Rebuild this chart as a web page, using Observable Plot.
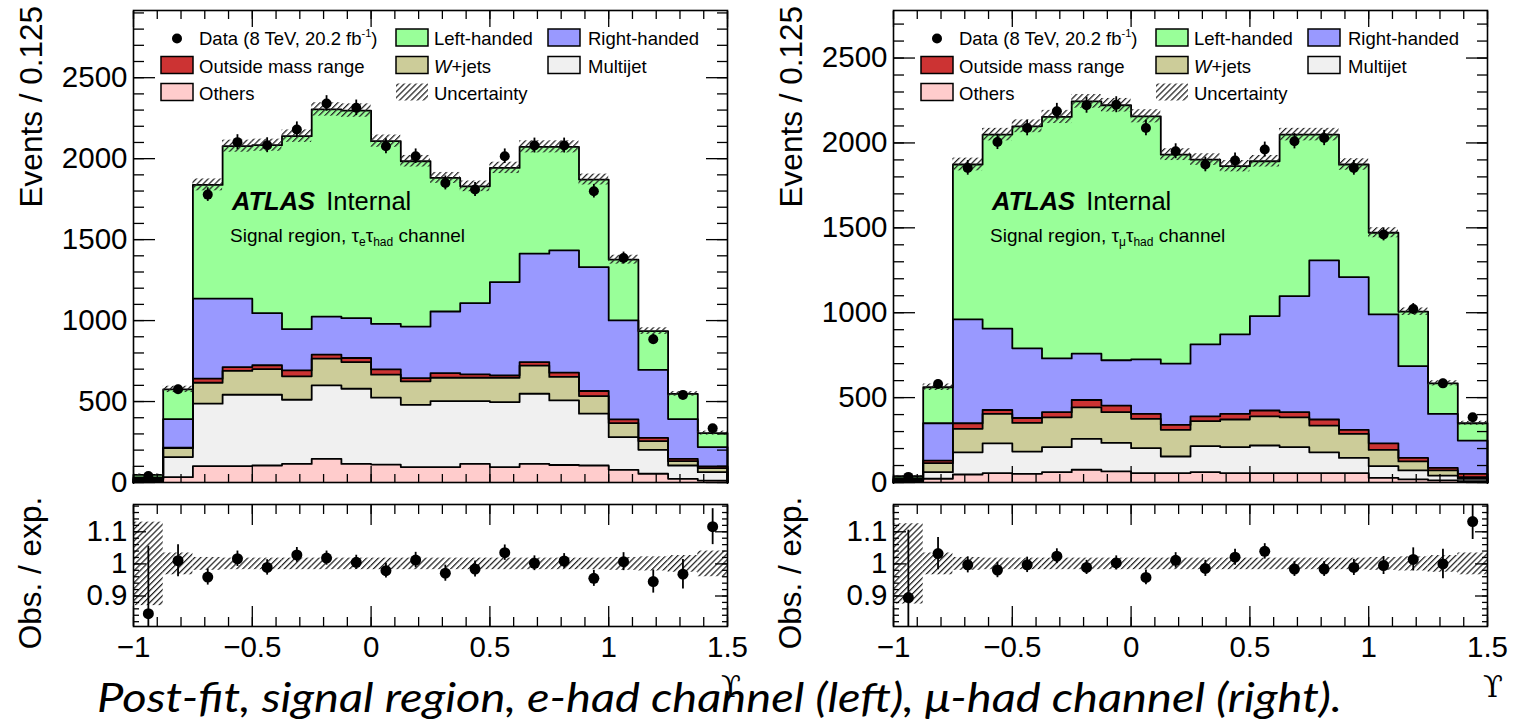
<!DOCTYPE html>
<html><head><meta charset="utf-8">
<script src="https://cdn.jsdelivr.net/npm/d3@7"></script>
<script src="https://cdn.jsdelivr.net/npm/@observablehq/plot@0.6"></script>
<style>
html,body{margin:0;padding:0;background:#fff;}
#root{position:relative;width:1514px;height:726px;overflow:hidden;background:#fff;}
#root svg{position:absolute;}
</style></head><body><div id="root"></div>
<script>
// ---------- data ----------
const binEdges = [-1,-0.875,-0.75,-0.625,-0.5,-0.375,-0.25,-0.125,0,0.125,0.25,0.375,0.5,0.625,0.75,0.875,1,1.125,1.25,1.375,1.5];
const componentNames = ["Others","Multijet","W+jets","Outside mass range","Right-handed","Left-handed"];
const componentColors = ["#ffcccc","#f0f0f0","#cccc99","#cc3333","#9999ff","#99ff99"];

// e-had channel (left)
const ehadOthers   = [5,33,101,101,105,115,146,115,111,95,95,115,95,115,108,105,78,54,23,12];
const ehadMultijet = [10,124,386,441,437,396,454,464,413,385,408,388,402,433,399,320,202,148,82,52];
const ehadWjets    = [5,55,129,147,158,145,165,165,142,145,144,144,150,174,145,109,87,54,27,25];
const ehadOutside  = [2,3,25,24,24,37,25,25,33,20,29,21,15,22,26,31,23,20,14,10];
const ehadRight    = [10,177,494,422,322,254,235,246,281,318,380,440,576,669,756,765,611,419,246,120];
const ehadLeft     = [15,183,703,942,1037,1192,1279,1282,1128,1021,825,721,705,660,639,541,375,240,155,86];
const ehadData     = [40,576,1778,2102,2083,2180,2341,2314,2077,2015,1850,1809,2015,2081,2081,1799,1386,885,541,335];
const ehadDataErr  = [7,24,42,46,46,47,48,48,46,45,43,43,45,46,46,42,37,30,23,18];
const ehadRatio    = [0.845,1.010,0.959,1.016,0.989,1.028,1.018,1.005,0.979,1.012,0.971,0.984,1.035,1.002,1.009,0.955,1.007,0.945,0.968,1.116];
const ehadRatioErr = [0.21,0.05,0.025,0.024,0.024,0.023,0.022,0.022,0.023,0.024,0.025,0.025,0.024,0.023,0.023,0.025,0.028,0.036,0.046,0.056];
const ehadBand     = [0.13,0.034,0.02,0.018,0.018,0.018,0.018,0.018,0.018,0.018,0.018,0.018,0.018,0.018,0.018,0.018,0.02,0.022,0.026,0.04];

// mu-had channel (right)
const muhadOthers   = [4,22,47,55,51,61,75,65,55,55,61,55,55,55,55,55,27,18,12,8];
const muhadMultijet = [8,39,131,176,131,147,182,168,147,98,153,153,163,153,123,90,69,53,29,14];
const muhadWjets    = [4,53,138,173,169,176,186,181,173,157,147,163,172,176,157,141,96,53,30,9];
const muhadOutside  = [2,15,33,23,29,30,43,39,29,29,29,33,34,30,36,24,39,21,15,20];
const muhadRight    = [8,220,612,479,410,317,273,267,321,361,424,469,556,684,937,900,759,540,318,196];
const muhadLeft     = [11,212,912,1143,1308,1422,1486,1502,1432,1231,1088,990,912,951,741,663,481,321,180,102];
const muhadData     = [33,580,1853,2006,2088,2186,2222,2225,2088,1951,1873,1896,1961,2010,2029,1853,1461,1022,584,384];
const muhadDataErr  = [6,24,43,45,46,47,47,47,46,44,43,44,44,45,45,43,38,32,24,20];
const muhadRatio    = [0.895,1.032,0.997,0.981,0.997,1.024,0.989,1.003,0.958,1.011,0.986,1.021,1.039,0.984,0.984,0.989,0.995,1.014,1.0,1.132];
const muhadRatioErr = [0.21,0.05,0.025,0.024,0.024,0.023,0.022,0.022,0.023,0.024,0.025,0.025,0.024,0.023,0.023,0.025,0.028,0.036,0.046,0.056];
const muhadBand     = [0.125,0.034,0.02,0.018,0.018,0.018,0.018,0.018,0.018,0.018,0.018,0.018,0.018,0.018,0.018,0.018,0.02,0.022,0.026,0.034];

// axis ticks
const xMajorTicks = [-1,-0.5,0,0.5,1,1.5];
const xMinorTicks = [-1,-0.9,-0.8,-0.7,-0.6,-0.5,-0.4,-0.3,-0.2,-0.1,0,0.1,0.2,0.3,0.4,0.5,0.6,0.7,0.8,0.9,1,1.1,1.2,1.3,1.4,1.5];
const yMajorTicks = [0,500,1000,1500,2000,2500];
const yMinorTicks = [0,100,200,300,400,500,600,700,800,900,1000,1100,1200,1300,1400,1500,1600,1700,1800,1900,2000,2100,2200,2300,2400,2500,2600,2700,2800,2900];
const rMajorTicks = [0.9,1,1.1];
const rMinorTicks = [0.82,0.84,0.86,0.88,0.9,0.92,0.94,0.96,0.98,1,1.02,1.04,1.06,1.08,1.1,1.12,1.14,1.16,1.18];

// legend
const legendLabels = ["Data","Left-handed","Right-handed","Outside mass range","W+jets","Multijet","Others","Uncertainty"];

// ---------- helpers ----------
const HATCH = "#010203";
const fontFam = "'Liberation Sans', Arial, Helvetica, sans-serif";
const root = document.getElementById("root");
const fmtX = d => d < 0 ? "\u2212" + Math.abs(d) : String(d);

function hatchDef(id) {
  return `<pattern id="${id}" width="4.2" height="4.2" patternUnits="userSpaceOnUse" patternTransform="rotate(45)"><rect x="0" y="0" width="1.25" height="4.2" fill="#222"/></pattern>`;
}
function applyHatch(svg, id) {
  const s = d3.select(svg);
  s.insert("defs", ":first-child").html(hatchDef(id));
  s.selectAll(`[fill="${HATCH}"]`).attr("fill", `url(#${id})`);
}
function place(svg, left, top) {
  svg.style.left = left + "px"; svg.style.top = top + "px";
  root.appendChild(svg);
}
function tickAxes(xMin, xMaj, yMin, yMaj, xl, xL, yl, yL) {
  const common = {tickFormat: () => "", label: null, strokeWidth: 1.3, stroke: "black"};
  return [
    Plot.axisX(xMin, {anchor: "bottom", tickSize: -xl, ...common}),
    Plot.axisX(xMaj, {anchor: "bottom", tickSize: -xL, ...common}),
    Plot.axisX(xMin, {anchor: "top", tickSize: -xl, ...common}),
    Plot.axisX(xMaj, {anchor: "top", tickSize: -xL, ...common}),
    Plot.axisY(yMin, {anchor: "left", tickSize: -yl, ...common}),
    Plot.axisY(yMaj, {anchor: "left", tickSize: -yL, ...common}),
    Plot.axisY(yMin, {anchor: "right", tickSize: -yl, ...common}),
    Plot.axisY(yMaj, {anchor: "right", tickSize: -yL, ...common})
  ];
}

function mainPlot(comps, data, dataErr, band, ymax, width, marginRight, id) {
  const rects = [], outlines = [];
  let cum = data.map(() => 0);
  comps.forEach((vals, k) => {
    const next = cum.map((v, i) => v + vals[i]);
    vals.forEach((v, i) => rects.push({x1: binEdges[i], x2: binEdges[i + 1], y1: cum[i], y2: next[i], fill: componentColors[k]}));
    outlines.push({x: binEdges[0], y: 0, k});
    next.forEach((v, i) => outlines.push({x: binEdges[i], y: v, k}));
    outlines.push({x: binEdges[20], y: next[19], k});
    outlines.push({x: binEdges[20], y: 0, k});
    cum = next;
  });
  const total = cum;
  const bandRows = total.map((t, i) => ({x1: binEdges[i], x2: binEdges[i + 1], y1: t * (1 - band[i]), y2: t * (1 + band[i])}));
  const pts = data.map((v, i) => ({x: (binEdges[i] + binEdges[i + 1]) / 2, y: v, lo: v - dataErr[i], hi: v + dataErr[i]}));
  const svg = Plot.plot({
    width, height: 500, marginLeft: 133, marginRight, marginTop: 10, marginBottom: 18,
    x: {domain: [-1, 1.5], axis: null}, y: {domain: [0, ymax], axis: null}, color: {type: "identity"},
    style: {background: "transparent", fontFamily: fontFam, fontSize: "29.5px", color: "black", overflow: "visible"},
    marks: [
      Plot.rect(rects, {x1: "x1", x2: "x2", y1: "y1", y2: "y2", fill: "fill", shapeRendering: "crispEdges"}),
      Plot.line(outlines, {x: "x", y: "y", z: "k", curve: "step-after", stroke: "black", strokeWidth: 1.8}),
      Plot.rect(bandRows, {x1: "x1", x2: "x2", y1: "y1", y2: "y2", fill: HATCH}),
      Plot.ruleX(pts, {x: "x", y1: "lo", y2: "hi", stroke: "black", strokeWidth: 1.8}),
      Plot.dot(pts, {x: "x", y: "y", r: 5, fill: "black"}),
      ...tickAxes(xMinorTicks, xMajorTicks, yMinorTicks.filter(d => d <= ymax), yMajorTicks, 8, 16, 11, 22),
      Plot.axisY(yMajorTicks, {anchor: "left", tickSize: 0, tickPadding: 6, tickFormat: d => String(d), label: null, fontSize: 29.5}),
      Plot.frame({stroke: "black", strokeWidth: 1.6})
    ]
  });
  applyHatch(svg, id);
  return svg;
}

function ratioPlot(ratio, ratioErr, band, width, marginRight, id) {
  const bandRows = band.map((u, i) => ({x1: binEdges[i], x2: binEdges[i + 1], y1: 1 - u, y2: 1 + u}));
  const pts = ratio.map((v, i) => ({x: (binEdges[i] + binEdges[i + 1]) / 2, y: v, lo: v - ratioErr[i], hi: v + ratioErr[i]}));
  const svg = Plot.plot({
    width, height: 236, marginLeft: 133, marginRight, marginTop: 14, marginBottom: 100,
    x: {domain: [-1, 1.5], axis: null}, y: {domain: [0.805, 1.185], axis: null},
    style: {background: "transparent", fontFamily: fontFam, fontSize: "29.5px", color: "black", overflow: "visible"},
    marks: [
      Plot.rect(bandRows, {x1: "x1", x2: "x2", y1: "y1", y2: "y2", fill: HATCH, clip: true}),
      Plot.ruleX(pts, {x: "x", y1: "lo", y2: "hi", stroke: "black", strokeWidth: 1.8, clip: true}),
      Plot.dot(pts, {x: "x", y: "y", r: 5.5, fill: "black", clip: true}),
      ...tickAxes(xMinorTicks, xMajorTicks, rMinorTicks, rMajorTicks, 9, 20, 6, 13),
      Plot.axisY(rMajorTicks, {anchor: "left", tickSize: 0, tickPadding: 6, tickFormat: d => String(d), label: null, fontSize: 29.5}),
      Plot.axisX(xMajorTicks, {anchor: "bottom", tickSize: 0, tickPadding: 10, tickFormat: fmtX, label: null, fontSize: 29.5}),
      Plot.frame({stroke: "black", strokeWidth: 1.6})
    ]
  });
  applyHatch(svg, id);
  return svg;
}

// ---------- panels ----------
place(mainPlot([ehadOthers, ehadMultijet, ehadWjets, ehadOutside, ehadRight, ehadLeft], ehadData, ehadDataErr, ehadBand, 2915, 760, 33, "hL"), 0, 0);
place(mainPlot([muhadOthers, muhadMultijet, muhadWjets, muhadOutside, muhadRight, muhadLeft], muhadData, muhadDataErr, muhadBand, 2780, 754, 27, "hR"), 760, 0);
place(ratioPlot(ehadRatio, ehadRatioErr, ehadBand, 760, 33, "hLr"), 0, 490);
place(ratioPlot(muhadRatio, muhadRatioErr, muhadBand, 754, 27, "hRr"), 760, 490);

// ---------- overlay texts, legends ----------
const ov = d3.select(root).append("svg").attr("width", 1514).attr("height", 726)
  .style("left", "0px").style("top", "0px").style("pointer-events", "none");
ov.append("defs").html(hatchDef("hOv"));

const swatchX = [161, 396, 548], textX = [199, 434, 588], rowY = [37.5, 65, 92];
const legendItems = [
  {label: legendLabels[0], col: 0, row: 0, kind: "dot"},
  {label: legendLabels[1], col: 1, row: 0, color: componentColors[5]},
  {label: legendLabels[2], col: 2, row: 0, color: componentColors[4]},
  {label: legendLabels[3], col: 0, row: 1, color: componentColors[3]},
  {label: legendLabels[4], col: 1, row: 1, color: componentColors[2]},
  {label: legendLabels[5], col: 2, row: 1, color: componentColors[1]},
  {label: legendLabels[6], col: 0, row: 2, color: componentColors[0]},
  {label: legendLabels[7], col: 1, row: 2, kind: "hatch"}
];

[[0, "e"], [760, "\u03BC"]].forEach(([ox, lep]) => {
  const g = ov.append("g").attr("transform", `translate(${ox},0)`).attr("font-family", fontFam).attr("fill", "black");
  g.append("text").attr("transform", "translate(42,6) rotate(-90)").attr("text-anchor", "end").attr("font-size", 31.5).text("Events / 0.125");
  g.append("text").attr("transform", "translate(41,573) rotate(-90)").attr("text-anchor", "middle").attr("font-size", 31.5).text("Obs. / exp.");
  // legend
  legendItems.forEach(it => {
    const cy = rowY[it.row];
    if (it.kind === "dot") {
      g.append("circle").attr("cx", 177).attr("cy", cy + 1).attr("r", 5).attr("fill", "black");
    } else if (it.kind === "hatch") {
      g.append("rect").attr("x", swatchX[it.col]).attr("y", cy - 8.5).attr("width", 32).attr("height", 17).attr("fill", "url(#hOv)");
    } else {
      g.append("rect").attr("x", swatchX[it.col]).attr("y", cy - 8.5).attr("width", 32).attr("height", 17)
        .attr("fill", it.color).attr("stroke", "black").attr("stroke-width", 1.5);
    }
    const t = g.append("text").attr("x", textX[it.col]).attr("y", cy + 7.5).attr("font-size", 18.5);
    if (it.kind === "dot") {
      t.append("tspan").text("Data (8 TeV, 20.2 fb");
      t.append("tspan").attr("font-size", 11).attr("dy", -8).text("-1");
      t.append("tspan").attr("dy", 8).text(")");
    } else if (it.label === "W+jets") {
      t.append("tspan").attr("font-style", "italic").text("W");
      t.append("tspan").text("+jets");
    } else {
      t.text(it.label);
    }
  });
  const a = g.append("text").attr("x", 232).attr("y", 210).attr("font-size", 25.5);
  a.append("tspan").attr("font-weight", "bold").attr("font-style", "italic").text("ATLAS");
  a.append("tspan").attr("dx", 4).text(" Internal");
  const s = g.append("text").attr("x", 230).attr("y", 242).attr("font-size", 19);
  s.append("tspan").text("Signal region, \u03C4");
  s.append("tspan").attr("font-size", 12).attr("dy", 4).text(lep);
  s.append("tspan").attr("dy", -4).text("\u03C4");
  s.append("tspan").attr("font-size", 12).attr("dy", 4).text("had");
  s.append("tspan").attr("dy", -4).text(" channel");
  g.append("text").attr("x", ox === 0 ? 731 : 733).attr("y", 697).attr("text-anchor", "middle")
    .attr("font-family", "'DejaVu Serif', 'Liberation Serif', serif").attr("font-size", 29).text("\u03D2");
});

ov.append("text").attr("x", 97).attr("y", 712)
  .attr("font-family", "Lato, 'Open Sans', sans-serif").attr("font-style", "italic").attr("font-size", 41).attr("fill", "black")
  .attr("textLength", 1245).attr("lengthAdjust", "spacingAndGlyphs")
  .text("Post-fit, signal region, e-had channel (left), \u03BC-had channel (right).");
</script></body></html>
